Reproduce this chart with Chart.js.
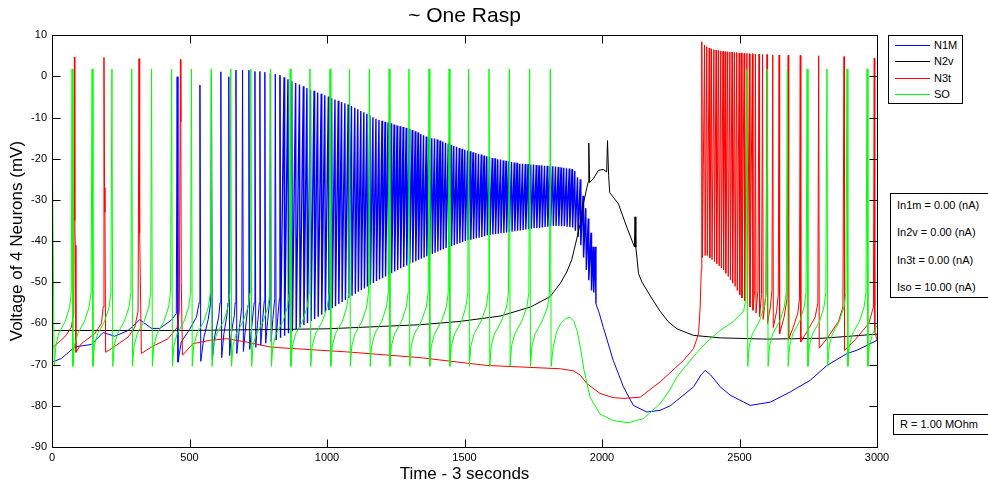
<!DOCTYPE html>
<html>
<head>
<meta charset="utf-8">
<title>~ One Rasp</title>
<script src="https://cdn.jsdelivr.net/npm/chart.js@4/dist/chart.umd.min.js"></script>
<style>
  body { margin: 0; background: #fff; font-family: "Liberation Sans", Arial, sans-serif; }
  #wrap { position: relative; width: 988px; height: 488px; overflow: hidden; }
  #chart { position: absolute; left: 0; top: 0; }
  .box { position: absolute; border: 1px solid #000; background: #fff; font-size: 11px; color: #000; }
  .row { position: absolute; left: 6px; line-height: 13px; white-space: nowrap; }
  .key { position: absolute; left: 6px; line-height: 13px; white-space: nowrap; padding-left: 39px; }
  .key i { position: absolute; left: 0; top: 6px; width: 35px; height: 1px; }
</style>
</head>
<body>
<div id="wrap">
  <canvas id="chart" width="988" height="488"></canvas>

  <!-- legend, MATLAB style -->
  <div class="box" style="left:888px;top:35px;width:73px;height:67px">
    <div class="key" style="top:3px"><i style="background:#0000ff"></i>N1M</div>
    <div class="key" style="top:19px"><i style="background:#000000"></i>N2v</div>
    <div class="key" style="top:36px"><i style="background:#ff0000"></i>N3t</div>
    <div class="key" style="top:52px"><i style="background:#00ff00"></i>SO</div>
  </div>

  <!-- injected currents -->
  <div class="box" style="left:890px;top:193px;width:110px;height:103px">
    <div class="row" style="top:5px">In1m = 0.00 (nA)</div>
    <div class="row" style="top:32px">In2v = 0.00 (nA)</div>
    <div class="row" style="top:60px">In3t = 0.00 (nA)</div>
    <div class="row" style="top:87px">Iso = 10.00 (nA)</div>
  </div>

  <div class="box" style="left:893px;top:414px;width:110px;height:19px">
    <div class="row" style="top:3px">R = 1.00 MOhm</div>
  </div>
</div>

<script>
// Tick values of both axes
const xTicks = [0, 500, 1000, 1500, 2000, 2500, 3000];
const yTicks = [10, 0, -10, -20, -30, -40, -50, -60, -70, -80, -90];

// Every trace is a flat list of time (ms), voltage (mV) pairs

// N1M: slow rest before the first spike
const n1mRest = [
  0,-69.4, 34,-68.5, 83,-65.7, 143,-65.1, 186,-62.2, 228,-63.1, 277,-61.7,
  319,-59.1, 362,-61.2, 392,-61.2, 434,-59.2, 452,-57.6
];
// N1M: first, well separated spikes
const n1mEarly = [
  455,-0.1, 458,-69.4, 470,-64.5, 500,-61.5, 525,-58.5, 535,-55,
  538,-2.1, 541,-69.2, 552,-63.5, 568,-59, 577,-55,
  580,0.3, 583,-68.8, 592,-63, 606,-58.5, 611,-55,
  614,1.1, 617,-68.3, 625,-62.5, 636,-58, 640,-55,
  643,-0.1, 646,-67.8, 653,-62, 663,-58, 666,-55,
  669,1.5, 672,-67.3, 680,-62, 690,-56,
  693,1.5, 696,-66.8, 703,-61.5, 713,-55.5,
  716,1.5, 719,-66.3, 726,-61, 735,-55,
  738,1.2, 741,-65.8, 747,-60.5, 754,-55,
  756,1.2, 759,-65.3, 765,-60, 772,-54.5,
  774,1.0, 777,-64.8, 784,-59.5, 792,-54,
  794,0.8, 797,-64.4, 803,-59, 810,-54,
  812,0.6, 815,-64, 821,-58.5, 827,-54
];
// N1M: dense burst, peak then trough of each spike
const n1mBurst = [
  829,0.3, 831,-63.5, 844,-0.2, 846,-63.0, 858,-0.7, 860,-62.4, 872,-1.2, 874,-61.9,
  886,-1.6, 888,-61.4, 900,-2.0, 902,-61.0, 914,-2.4, 916,-60.4, 927,-2.8, 929,-59.9,
  940,-3.2, 942,-59.4, 953,-3.5, 955,-58.9, 966,-3.9, 968,-58.4, 979,-4.2, 981,-57.9,
  992,-4.6, 994,-57.3, 1005,-4.9, 1007,-56.8, 1017,-5.3, 1019,-56.3, 1029,-5.6, 1031,-55.8,
  1041,-5.9, 1043,-55.3, 1053,-6.2, 1055,-54.8, 1065,-6.5, 1067,-54.3, 1077,-6.8, 1079,-53.8,
  1089,-7.2, 1091,-53.3, 1101,-7.6, 1103,-52.8, 1112,-8.0, 1114,-52.3, 1123,-8.4, 1125,-51.9,
  1134,-8.7, 1136,-51.5, 1145,-9.1, 1147,-51.0, 1156,-9.5, 1158,-50.6, 1167,-9.9, 1169,-50.2,
  1178,-10.3, 1180,-49.7, 1189,-10.6, 1191,-49.3, 1200,-10.8, 1202,-49.0, 1211,-11.0, 1213,-48.6,
  1222,-11.2, 1224,-48.2, 1233,-11.4, 1235,-47.8, 1244,-11.7, 1246,-47.4, 1255,-11.9, 1257,-47.0,
  1266,-12.1, 1268,-46.6, 1277,-12.3, 1279,-46.3, 1288,-12.5, 1290,-45.9, 1299,-12.7, 1301,-45.5,
  1310,-13.0, 1312,-45.2, 1321,-13.3, 1323,-44.9, 1331,-13.6, 1333,-44.6, 1341,-14.0, 1343,-44.3,
  1351,-14.3, 1353,-44.0, 1361,-14.6, 1363,-43.7, 1371,-14.8, 1373,-43.4, 1381,-15.0, 1383,-43.1,
  1391,-15.1, 1393,-42.8, 1401,-15.3, 1403,-42.5, 1411,-15.6, 1413,-42.2, 1421,-15.8, 1423,-42.0,
  1431,-16.1, 1433,-41.7, 1441,-16.3, 1443,-41.5, 1451,-16.6, 1453,-41.2, 1461,-16.9, 1463,-41.0,
  1471,-17.1, 1473,-40.7, 1481,-17.4, 1483,-40.5, 1491,-17.6, 1493,-40.2, 1501,-17.8, 1503,-40.0,
  1511,-18.0, 1513,-39.8, 1521,-18.2, 1523,-39.7, 1531,-18.4, 1533,-39.5, 1541,-18.6, 1543,-39.3,
  1551,-18.8, 1553,-39.2, 1561,-19.0, 1563,-39.0, 1571,-19.2, 1573,-38.8, 1581,-19.4, 1583,-38.6,
  1591,-19.6, 1593,-38.5, 1601,-19.8, 1603,-38.4, 1611,-19.9, 1613,-38.3, 1621,-20.1, 1623,-38.2,
  1631,-20.2, 1633,-38.1, 1641,-20.4, 1643,-38.0, 1651,-20.5, 1653,-37.9, 1661,-20.6, 1663,-37.8,
  1671,-20.8, 1673,-37.7, 1681,-20.9, 1683,-37.6, 1691,-21.0, 1693,-37.5, 1701,-21.2, 1703,-37.4,
  1711,-21.2, 1713,-37.3, 1721,-21.3, 1723,-37.2, 1731,-21.3, 1733,-37.1, 1741,-21.4, 1743,-37.0,
  1751,-21.4, 1753,-36.9, 1761,-21.5, 1763,-36.8, 1771,-21.6, 1773,-36.8, 1781,-21.6, 1783,-36.7,
  1791,-21.7, 1793,-36.6, 1801,-21.7, 1803,-36.5, 1811,-21.8, 1813,-36.4, 1821,-21.8, 1823,-36.3,
  1831,-21.9, 1833,-36.3, 1841,-22.0, 1843,-36.3, 1851,-22.1, 1853,-36.4, 1861,-22.2, 1863,-36.4,
  1871,-22.3, 1873,-36.5, 1881,-22.4, 1883,-36.6, 1891,-22.5, 1893,-36.7,
  1901,-23, 1903,-37.5, 1911,-24.5, 1913,-39, 1921,-25, 1923,-41, 1931,-29, 1933,-44,
  1941,-32, 1943,-47, 1950,-34.5, 1952,-49.5, 1960,-38, 1962,-52, 1968,-41.4, 1970,-52.5,
  1976,-41.4, 1978,-55.2
];
// N1M: hyperpolarised tail
const n1mTail = [
  1990,-57.5, 2005,-61, 2041,-69, 2078,-75.4, 2114,-79.9, 2163,-81.5, 2211,-81.1,
  2248,-80, 2272,-78.7, 2333,-75.4, 2360,-72.5, 2375,-71.4, 2395,-72.5, 2430,-75.4,
  2466,-77.4, 2539,-79.9, 2612,-79.1, 2685,-76.6, 2757,-73.8, 2818,-70.2, 2891,-67.3,
  2927,-66.5, 3000,-64.1
];

// N2v: slow plateau with three small spikes
const n2vTrace = [
  0,-61.7, 500,-61.7, 1000,-61.3, 1340,-60.3, 1484,-59.5, 1630,-58.2, 1740,-56, 1811,-53.5,
  1848,-50.3, 1872,-47.5, 1890,-44.5, 1908,-39.5, 1920,-36, 1932,-31, 1945,-27, 1950,-25.6,
  1952,-16.2, 1955,-25.8, 1969,-24.8, 1987,-22.8, 2005,-22.6, 2017,-23.2, 2020,-15.6, 2024,-24,
  2028,-28.2, 2060,-31, 2090,-36.6, 2118,-41.4, 2120,-34.1, 2123,-41.5, 2133,-47.9, 2145,-49.9,
  2180,-53.8, 2211,-57, 2240,-59.5, 2272,-61.3, 2333,-62.9, 2430,-63.5, 2600,-63.8, 2800,-63.6,
  3000,-62.6
];

// N3t: four early spikes, long slow decline
const n3tEarly = [
  0,-66, 46,-63.3, 70,-61, 79,-57.5, 81.5,4.7, 83,-35, 84.5,-41, 87,-67,
  107,-64.9, 155,-62.5, 180,-60, 186,-56, 189,4.6, 191,-27, 192.5,-33, 195,-67,
  216,-66.1, 277,-63.3, 301,-60.9, 313,-57, 316.5,4.3, 318,-32, 319.5,-38, 325,-67.3,
  362,-65.7, 422,-63.7, 455,-61, 463,-57, 467,4.1, 468.5,-11, 470,-50, 474.5,-67.7,
  513,-64.9, 574,-64.1, 635,-63.7, 707,-64.5, 792,-65.7, 829,-65.9, 1071,-66.9, 1338,-68.3,
  1581,-70.2, 1848,-71, 1896,-71.5, 1920,-72.5, 1945,-74.6, 1993,-77, 2040,-78, 2078,-78.2,
  2139,-77.9, 2211,-74.2, 2296,-69, 2333,-66.1, 2351,-62.5, 2357,-56, 2361,-47
];
// N3t: rebound burst
const n3tBurst = [
  2363,8.4, 2365,-44, 2373,7.6, 2375,-43.5, 2381,7.2, 2383,-43.5, 2390,6.9, 2392,-44,
  2398,6.7, 2400,-44.5, 2407,6.5, 2409,-45, 2415,6.4, 2417,-45.5, 2424,6.3, 2426,-46,
  2432,6.2, 2434,-46.5, 2440,6.1, 2442,-47, 2448,6.0, 2450,-47.8, 2457,6.0, 2459,-48.6,
  2465,5.9, 2467,-49.4, 2473,5.9, 2475,-50.2, 2482,5.8, 2484,-51, 2490,5.8, 2492,-52,
  2499,5.7, 2501,-53, 2507,5.7, 2509,-53.8, 2517,5.6, 2519,-54.5, 2527,5.6, 2529,-55.2,
  2536,5.5, 2538,-56, 2547,5.5, 2549,-56.8, 2555,-52,
  2558,5.4, 2560,-57.5, 2567,-52,
  2571,5.4, 2573,-58.3, 2580,-53,
  2584,5.3, 2586,-59, 2596,-53,
  2600,5.3, 2602,-60, 2612,-56, 2618,-52,
  2621,5.2, 2623,-61, 2635,-57, 2641,-53,
  2644,5.2, 2646,-62.5, 2662,-58.5, 2673,-54,
  2677,5.1, 2679,-63.8, 2695,-61, 2712,-57.5, 2718,-54,
  2721,5.1, 2723,-64.5, 2745,-62, 2775,-58.5, 2785,-55,
  2788,5.0, 2790,-66, 2820,-63.5, 2860,-59.5, 2876,-56,
  2880,4.8, 2882,-66.5, 2920,-64, 2970,-60, 2987,-56,
  2990,4.4, 2992,-62, 3000,-64
];

// SO: regular pacemaker, silent pause around 1850-2500 ms
const soTrace = [
  0,-8, 8,-70.4, 14,-65.5, 24,-62.5, 48,-59.5, 64,-56, 70,-52.5,
  73,1.8, 76,-70.4, 81,-65.5, 93,-62.5, 118,-59.5, 135,-56, 142,-52.5,
  146,1.8, 149,-70.4, 154,-65.5, 166,-62.5, 191,-59.5, 208,-56, 214,-52.5,
  218,1.8, 221,-70.4, 226,-65.5, 238,-62.5, 263,-59.5, 280,-56, 287,-52.5,
  290,1.8, 293,-70.4, 298,-65.5, 310,-62.5, 335,-59.5, 352,-56, 359,-52.5,
  362,1.8, 365,-70.4, 370,-65.5, 382,-62.5, 407,-59.5, 424,-56, 431,-52.5,
  435,1.8, 438,-70.4, 443,-65.5, 455,-62.5, 480,-59.5, 497,-56, 504,-52.5,
  507,1.8, 510,-70.4, 515,-65.5, 527,-62.5, 552,-59.5, 569,-56, 576,-52.5,
  579,1.8, 582,-70.4, 587,-65.5, 599,-62.5, 624,-59.5, 640,-56, 647,-52.5,
  650,1.8, 653,-70.4, 658,-65.5, 670,-62.5, 695,-59.5, 713,-56, 720,-52.5,
  723,1.8, 726,-70.4, 731,-65.5, 743,-62.5, 768,-59.5, 785,-56, 792,-52.5,
  795,1.8, 798,-70.4, 803,-65.5, 815,-62.5, 840,-59.5, 856,-56, 863,-52.5,
  866,1.8, 869,-70.4, 874,-65.5, 886,-62.5, 911,-59.5, 928,-56, 935,-52.5,
  938,1.8, 941,-70.4, 946,-65.5, 958,-62.5, 983,-59.5, 1001,-56, 1008,-52.5,
  1011,1.8, 1014,-70.4, 1019,-65.5, 1031,-62.5, 1056,-59.5, 1072,-56, 1079,-52.5,
  1082,1.8, 1085,-70.4, 1090,-65.5, 1102,-62.5, 1127,-59.5, 1144,-56, 1151,-52.5,
  1154,1.8, 1157,-70.4, 1162,-65.5, 1174,-62.5, 1199,-59.5, 1216,-56, 1223,-52.5,
  1226,1.8, 1229,-70.4, 1234,-65.5, 1246,-62.5, 1271,-59.5, 1288,-56, 1295,-52.5,
  1298,1.8, 1301,-70.4, 1306,-65.5, 1318,-62.5, 1343,-59.5, 1361,-56, 1368,-52.5,
  1371,1.8, 1374,-70.4, 1379,-65.5, 1391,-62.5, 1416,-59.5, 1434,-56, 1441,-52.5,
  1444,1.8, 1447,-70.4, 1452,-65.5, 1464,-62.5, 1489,-59.5, 1505,-56, 1512,-52.5,
  1515,1.8, 1518,-70.4, 1523,-65.5, 1535,-62.5, 1560,-59.5, 1579,-56, 1586,-52.5,
  1589,1.8, 1592,-70.4, 1597,-65.5, 1609,-62.5, 1634,-59.5, 1653,-56, 1660,-52.5,
  1663,1.8, 1666,-70.4, 1671,-65.5, 1683,-62.5, 1708,-59.5, 1727,-56, 1734,-52.5,
  1737,1.8, 1740,-70.4, 1745,-65.5, 1757,-62.5, 1782,-59.5, 1802,-56, 1809,-52.5,
  1812,1.8, 1815,-70.4, 1822,-66, 1835,-62, 1850,-60, 1868,-58.8, 1884,-58.5, 1898,-59.5,
  1910,-62, 1922,-66, 1935,-71.5, 1957,-78, 1993,-82, 2041,-83.6, 2096,-84.1, 2151,-83.1,
  2211,-79.5, 2248,-76, 2272,-73, 2333,-68, 2381,-64.5, 2430,-61.7, 2478,-59.5, 2515,-57, 2523,-54,
  2527,1.8, 2530,-70.4, 2535,-65.5, 2547,-62.5, 2572,-59.5, 2590,-56, 2597,-52.5,
  2601,1.8, 2604,-70.4, 2609,-65.5, 2621,-62.5, 2646,-59.5, 2663,-56, 2670,-52.5,
  2674,1.8, 2677,-70.4, 2682,-65.5, 2694,-62.5, 2719,-59.5, 2735,-56, 2742,-52.5,
  2746,1.8, 2749,-70.4, 2754,-65.5, 2766,-62.5, 2791,-59.5, 2807,-56, 2814,-52.5,
  2818,1.8, 2821,-70.4, 2826,-65.5, 2838,-62.5, 2863,-59.5, 2880,-56, 2887,-52.5,
  2891,1.8, 2894,-70.4, 2899,-65.5, 2911,-62.5, 2936,-59.5, 2953,-56, 2960,-52.5,
  2964,1.8, 2967,-70.4, 2972,-65.5, 2984,-62.5, 3000,-60.5
];

// turn flat [t, v, t, v ...] lists into chart points
function toPoints(...lists) {
  const pts = [];
  lists.forEach(list => {
    for (let i = 0; i < list.length; i += 2) pts.push({ x: list[i], y: list[i + 1] });
  });
  return pts;
}

// box around the plot with inward ticks on all four sides (MATLAB look)
const TICK = 8;
const framePlugin = {
  id: 'frame',
  afterDraw(chart) {
    const { ctx, chartArea: a, scales: { x, y } } = chart;
    const l = Math.round(a.left) + 0.5, r = Math.round(a.right) + 0.5;
    const t = Math.round(a.top) + 0.5,  b = Math.round(a.bottom) + 0.5;
    ctx.save();
    ctx.strokeStyle = '#000';
    ctx.lineWidth = 1;
    ctx.beginPath();
    ctx.rect(l, t, r - l, b - t);
    xTicks.forEach(v => {
      const px = Math.round(x.getPixelForValue(v)) + 0.5;
      ctx.moveTo(px, b); ctx.lineTo(px, b - TICK);
      ctx.moveTo(px, t); ctx.lineTo(px, t + TICK);
    });
    yTicks.forEach(v => {
      const py = Math.round(y.getPixelForValue(v)) + 0.5;
      ctx.moveTo(l, py); ctx.lineTo(l + TICK, py);
      ctx.moveTo(r, py); ctx.lineTo(r - TICK, py);
    });
    ctx.stroke();
    ctx.restore();
  }
};

Chart.defaults.font.family = '"Liberation Sans", Arial, sans-serif';
Chart.defaults.color = '#000';

const trace = (label, color, order, data) => ({
  label, data, order,
  borderColor: color,
  borderWidth: 1,
  pointRadius: 0,
  tension: 0,
  fill: false
});

// the N1M burst is drawn a touch heavier so it reads as the dense band of the original
const n1m = trace('N1M', '#0000ff', 3, toPoints(n1mRest, n1mEarly, n1mBurst, n1mTail));
n1m.segment = {
  borderWidth: ctx => (ctx.p0.parsed.x >= 829 && ctx.p1.parsed.x <= 1978 ? 1.4 : 1)
};

new Chart(document.getElementById('chart'), {
  type: 'line',
  data: {
    datasets: [
      // MATLAB draws N1M first, SO last (on top); lower order = drawn on top here
      n1m,
      trace('N2v', '#000000', 2, toPoints(n2vTrace)),
      trace('N3t', '#ff0000', 1, toPoints(n3tEarly, n3tBurst)),
      trace('SO',  '#00ff00', 0, toPoints(soTrace))
    ]
  },
  options: {
    responsive: false,
    animation: false,
    devicePixelRatio: 1,
    parsing: false,
    layout: { padding: { right: 111 } },
    plugins: {
      legend: { display: false },
      tooltip: { enabled: false },
      title: {
        display: true,
        text: '~ One Rasp',
        fullSize: false,
        font: { size: 21, weight: 'normal' },
        padding: { top: 4, bottom: 6 }
      }
    },
    scales: {
      x: {
        type: 'linear',
        min: 0, max: 3000,
        afterBuildTicks: s => { s.ticks = xTicks.map(v => ({ value: v })); },
        afterFit: s => { s.height = 41; },
        ticks: { font: { size: 11 }, padding: 4, maxRotation: 0, autoSkip: false, callback: v => String(v) },
        grid: { display: false, drawTicks: false },
        border: { display: false },
        title: { display: true, text: 'Time - 3 seconds', font: { size: 17 }, padding: { top: 0, bottom: 3 } }
      },
      y: {
        type: 'linear',
        min: -90, max: 10,
        afterBuildTicks: s => { s.ticks = yTicks.map(v => ({ value: v })); },
        afterFit: s => { s.width = 52; },
        ticks: { font: { size: 11 }, padding: 5, callback: v => String(v) },
        grid: { display: false, drawTicks: false },
        border: { display: false },
        title: { display: true, text: 'Voltage of 4 Neurons (mV)', font: { size: 17 }, padding: { top: 7, bottom: 0 } }
      }
    }
  },
  plugins: [framePlugin]
});
</script>
</body>
</html>
